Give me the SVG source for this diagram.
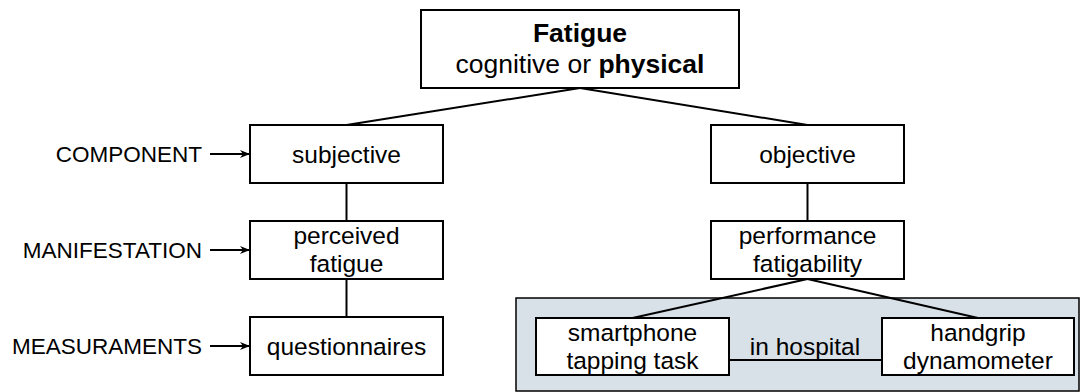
<svg xmlns="http://www.w3.org/2000/svg" width="1083" height="392" viewBox="0 0 1083 392">
<defs>
<style>
text{font-family:"Liberation Sans",Arial,sans-serif;font-size:24.5px;fill:#000;}
.c{text-anchor:middle;}
.r{text-anchor:end;font-size:22.5px;}
.b{font-weight:bold;}
.t{font-size:26.5px;}
.box{fill:#fff;stroke:#000;stroke-width:2;}
.ln{fill:none;stroke:#000;stroke-width:2;}
</style>
<marker id="arr" viewBox="0 0 10 10" refX="9" refY="5" markerWidth="10" markerHeight="10" markerUnits="userSpaceOnUse" orient="auto">
<path d="M0,1 L10,5 L0,9 L3,5 Z" fill="#000"/>
</marker>
</defs>
<rect width="1083" height="392" fill="#fff"/>
<g id="group-hospital">
<rect x="516" y="298" width="563" height="93" fill="#d8e0e8" stroke="#000" stroke-width="1.5"/>
</g>
<g id="connectors">
<line class="ln" x1="580" y1="88" x2="346.5" y2="125"/>
<line class="ln" x1="580" y1="88" x2="807.5" y2="125"/>
<line class="ln" x1="346.5" y1="183" x2="346.5" y2="221"/>
<line class="ln" x1="346.5" y1="279" x2="346.5" y2="317"/>
<line class="ln" x1="807.5" y1="183" x2="807.5" y2="221"/>
<line class="ln" x1="807.5" y1="279" x2="632.5" y2="318"/>
<line class="ln" x1="807.5" y1="279" x2="978" y2="318"/>
<line class="ln" x1="729" y1="360" x2="882" y2="360"/>
<line class="ln" x1="210" y1="154" x2="249" y2="154" marker-end="url(#arr)"/>
<line class="ln" x1="210" y1="250" x2="249" y2="250" marker-end="url(#arr)"/>
<line class="ln" x1="210" y1="346" x2="249" y2="346" marker-end="url(#arr)"/>
</g>
<g id="node-fatigue">
<rect class="box" x="421" y="10" width="318" height="78"/>
<text class="c b t" x="580" y="42">Fatigue</text>
<text class="c t" x="580" y="73">cognitive or <tspan class="b">physical</tspan></text>
</g>
<g id="node-subjective">
<rect class="box" x="250" y="125" width="193" height="58"/>
<text class="c" x="346.5" y="162.5">subjective</text>
</g>
<g id="node-objective">
<rect class="box" x="711" y="125" width="193" height="58"/>
<text class="c" x="807.5" y="162.5">objective</text>
</g>
<g id="node-perceived">
<rect class="box" x="250" y="221" width="193" height="58"/>
<text class="c" x="346.5" y="244">perceived</text>
<text class="c" x="346.5" y="272">fatigue</text>
</g>
<g id="node-performance">
<rect class="box" x="711" y="221" width="193" height="58"/>
<text class="c" x="807.5" y="244">performance</text>
<text class="c" x="807.5" y="272">fatigability</text>
</g>
<g id="node-questionnaires">
<rect class="box" x="250" y="317" width="193" height="58"/>
<text class="c" x="346.5" y="354.5">questionnaires</text>
</g>
<g id="node-smartphone">
<rect class="box" x="536" y="318" width="193" height="57"/>
<text class="c" x="632.5" y="341">smartphone</text>
<text class="c" x="632.5" y="369">tapping task</text>
</g>
<g id="node-handgrip">
<rect class="box" x="882" y="318" width="192" height="57"/>
<text class="c" x="978" y="341">handgrip</text>
<text class="c" x="978" y="369">dynamometer</text>
</g>
<g id="label-in-hospital">
<text class="c" x="805" y="355">in hospital</text>
</g>
<g id="label-component">
<text class="r" x="202" y="162">COMPONENT</text>
</g>
<g id="label-manifestation">
<text class="r" x="202" y="258">MANIFESTATION</text>
</g>
<g id="label-measuraments">
<text class="r" x="202" y="354">MEASURAMENTS</text>
</g>
</svg>
